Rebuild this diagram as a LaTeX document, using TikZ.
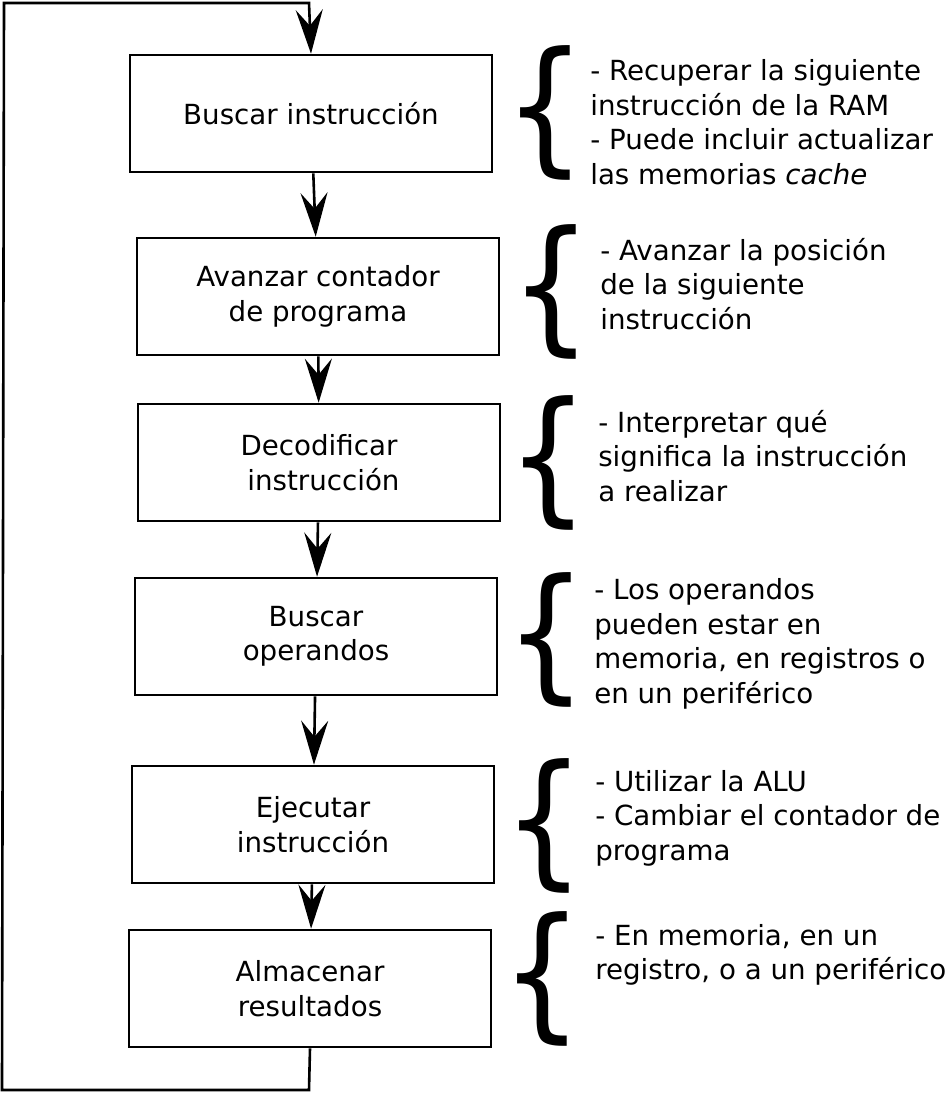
\documentclass[tikz,border=0pt]{standalone}
\usepackage{fontspec}
\setmainfont{DejaVu Sans}
\usetikzlibrary{arrows.meta}
\begin{document}
\begin{tikzpicture}[x=1pt,y=-1pt,line width=2.6pt,
  stepbox/.style={draw,rectangle,minimum width=362pt,minimum height=117pt,inner sep=0pt,align=center,font=\fontsize{27.7}{34.5}\selectfont},
  note/.style={anchor=west,align=left,inner sep=0pt,font=\fontsize{27.7}{34.5}\selectfont},
  brace/.style={inner sep=0pt,font=\fontsize{146}{146}\selectfont},
  arr/.style={-{Stealth[length=44pt,width=27pt,inset=16pt]}}]
\useasboundingbox (0,0) rectangle (945,1093);
\node[stepbox] (b1) at (311,113.5) {Buscar instrucción};
\node[stepbox] (b2) at (318,296.5) {Avanzar contador\\de programa};
\node[stepbox] (b3) at (319,462.5) {Decodificar\\\ instrucción};
\node[stepbox] (b4) at (316,636.5) {Buscar\\operandos};
\node[stepbox] (b5) at (313,824.5) {Ejecutar\\instrucción};
\node[stepbox] (b6) at (310,988.5) {Almacenar\\resultados};
\draw[arr] (b1) -- (b2);
\draw[arr] (b2) -- (b3);
\draw[arr] (b3) -- (b4);
\draw[arr] (b4) -- (b5);
\draw[arr] (b5) -- (b6);
\coordinate (c1) at (309,1090);
\coordinate (c2) at (2,1090);
\coordinate (c3) at (4,3);
\coordinate (c4) at (309,3);
\draw[arr] (b6.south) -- (c1) -- (c2) -- (c3) -- (c4) -- (b1.north);
\node[brace] (k1) at (545,113) {\scalebox{0.88}[1]{\{}};
\node[brace] (k2) at (551,292) {\scalebox{0.88}[1]{\{}};
\node[brace] (k3) at (548,463) {\scalebox{0.88}[1]{\{}};
\node[brace] (k4) at (546,640) {\scalebox{0.88}[1]{\{}};
\node[brace] (k5) at (544,826) {\scalebox{0.88}[1]{\{}};
\node[brace] (k6) at (542,979) {\scalebox{0.88}[1]{\{}};
\node[note] (t1) at (589,122) {- Recuperar la siguiente\\instrucción de la RAM\\- Puede incluir actualizar\\las memorias \textit{cache}};
\node[note] (t2) at (599,284) {- Avanzar la posición\\de la siguiente\\instrucción};
\node[note] (t3) at (597,456) {- Interpretar qué\\significa la instrucción\\a realizar};
\node[note] (t4) at (593,644) {- Los operandos\\pueden estar en\\memoria, en registros o\\en un periférico};
\node[note] (t5) at (594,818) {- Utilizar la ALU\\- Cambiar el contador de\\programa};
\node[note] (t6) at (594,955) {- En memoria, en un\\registro, o a un periférico};
\end{tikzpicture}
\end{document}
